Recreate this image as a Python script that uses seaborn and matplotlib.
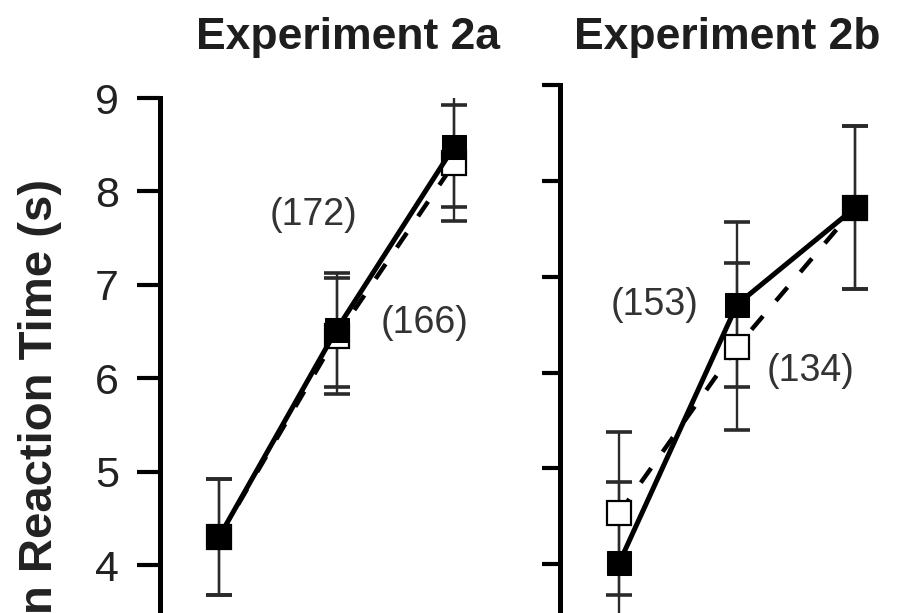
import matplotlib
matplotlib.use("Agg")
import matplotlib.pyplot as plt
import pandas as pd
import seaborn as sns

# Condition positions along the (unlabelled) x axis
conditions = [0, 1, 2]

# Experiment 2a: mean RT (s) and error for the two groups
exp2a_filled = [4.30, 6.52, 8.48]
exp2a_filled_err = [0.62, 0.61, 0.65]
exp2a_open = [4.30, 6.45, 8.30]
exp2a_open_err = [0.62, 0.62, 0.62]

# Experiment 2b
exp2b_filled = [4.01, 6.71, 7.72]
exp2b_filled_err = [0.85, 0.86, 0.85]
exp2b_open = [4.53, 6.27, 7.72]
exp2b_open_err = [0.85, 0.87, 0.85]

yticks = [2, 3, 4, 5, 6, 7, 8, 9]
titles = ["Experiment 2a", "Experiment 2b"]
n_labels_2a = ["(172)", "(166)"]
n_labels_2b = ["(153)", "(134)"]

sns.set_theme(style="ticks")
plt.rcParams["font.family"] = ["Liberation Sans", "DejaVu Sans"]

W, H = 907, 613
fig = plt.figure(figsize=(W / 100, H / 100), dpi=100)
fig.patch.set_facecolor("white")


def px_axes(x0, x1, ytop, ybot):
    return fig.add_axes([x0 / W, 1 - ybot / H, (x1 - x0) / W, (ybot - ytop) / H])


ax1 = px_axes(160, 500, 98, 752)
ax1.set_xlim(-0.502, 2.391)
ax2 = px_axes(560, 907, 85, 756)
ax2.set_xlim(-0.5, 2.44)

panels = [
    (ax1, exp2a_filled, exp2a_filled_err, exp2a_open, exp2a_open_err, 16.5),
    (ax2, exp2b_filled, exp2b_filled_err, exp2b_open, exp2b_open_err, 13.0),
]

for ax, f_vals, f_err, o_vals, o_err, tick_len in panels:
    df = pd.DataFrame({"cond": conditions, "filled": f_vals, "open": o_vals})
    # error bars (open group first, filled on top)
    ax.errorbar(df["cond"], df["open"], yerr=o_err, fmt="none", ecolor="#2a2a2a",
                elinewidth=1.7, capsize=9.5, capthick=2.6, zorder=1)
    ax.errorbar(df["cond"], df["filled"], yerr=f_err, fmt="none", ecolor="#2a2a2a",
                elinewidth=1.7, capsize=9.5, capthick=2.6, zorder=1)
    sns.lineplot(data=df, x="cond", y="open", ax=ax, color="black", lw=3.2,
                 dashes=False, linestyle=(0, (4, 4.5)), marker="s", markersize=17,
                 markerfacecolor="white", markeredgecolor="black",
                 markeredgewidth=1.6, zorder=2)
    sns.lineplot(data=df, x="cond", y="filled", ax=ax, color="black", lw=3.6,
                 marker="s", markersize=17, markerfacecolor="black",
                 markeredgecolor="black", zorder=3)
    ax.set_ylim(2, 9)
    ax.set_yticks(yticks)
    ax.set_xticks([])
    ax.set_xlabel("")
    ax.set_ylabel("")
    ax.set_facecolor("white")
    for side in ["top", "right", "bottom"]:
        ax.spines[side].set_visible(False)
    ax.spines["left"].set_linewidth(3.6)
    ax.spines["left"].set_color("black")
    ax.tick_params(axis="y", direction="out", length=tick_len, width=3.0,
                   color="black", pad=13, labelsize=31, labelcolor="#222222")

ax2.set_yticklabels([])

# sample sizes
ax1.text(0.80, 7.75, n_labels_2a[0], ha="center", va="center", fontsize=27, color="#333333")
ax1.text(1.75, 6.59, n_labels_2a[1], ha="center", va="center", fontsize=27, color="#333333")
ax2.text(0.305, 6.70, n_labels_2b[0], ha="center", va="center", fontsize=27, color="#333333")
ax2.text(1.62, 6.02, n_labels_2b[1], ha="center", va="center", fontsize=27, color="#333333")

# panel titles
fig.text(348 / W, 1 - 38 / H, titles[0], ha="center", va="center",
         fontsize=32, fontweight="bold", color="#1e1e1e")
fig.text(727 / W, 1 - 38 / H, titles[1], ha="center", va="center",
         fontsize=32, fontweight="bold", color="#1e1e1e")

# y-axis label
fig.text(40 / W, 1 - 442 / H, "Mean Reaction Time (s)", rotation=90,
         ha="center", va="center", fontsize=34, fontweight="bold", color="#222222")

fig.savefig("out.png", dpi=100, facecolor="white")
